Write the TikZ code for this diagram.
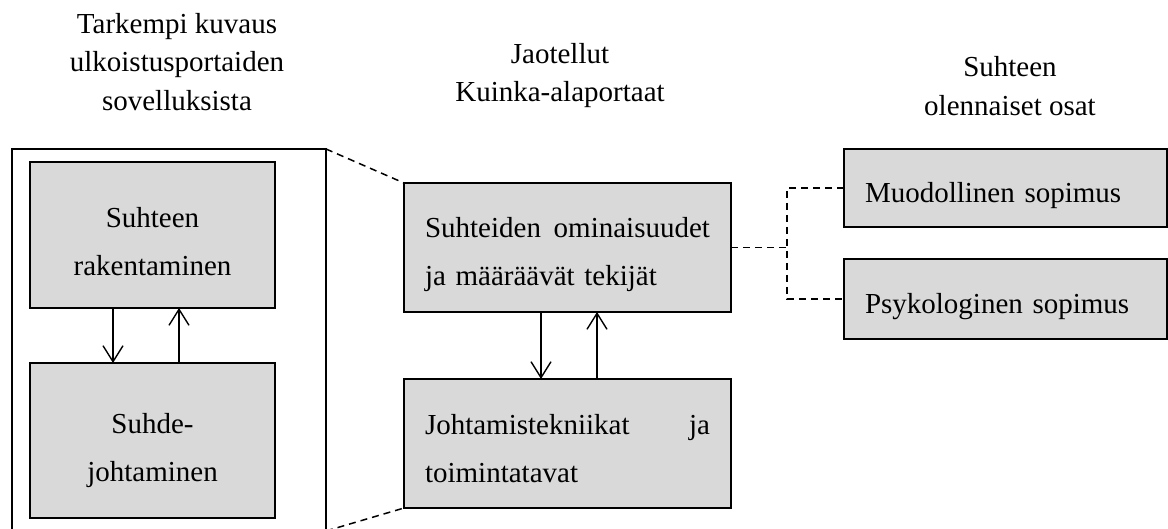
\documentclass[tikz,border=0pt]{standalone}
\usepackage{fontspec}
\setmainfont{Liberation Serif}
\usepackage{tikz}
\usetikzlibrary{arrows.meta,positioning,calc}
\tikzset{
    graybox/.style={
        draw,
        line width=2pt,
        fill=black!15,
        inner sep=0pt,
        outer sep=0pt
    },
    boxtext/.style={
        inner sep=0pt,
        font=\fontsize{29}{48}\selectfont
    },
    headtext/.style={
        align=center,
        inner sep=0pt,
        font=\fontsize{29}{38.5}\selectfont
    },
    linkarrow/.style={
        line width=1.4pt,
        ->,
        >={Straight Barb[length=16pt, width=20pt, line width=1.4pt]}
    },
    dashlink/.style={
        line width=1.5pt,
        dash pattern=on 7pt off 5pt
    }
}

\begin{document}
\begin{tikzpicture}[x=1pt, y=-1pt]
        \clip (0,0) rectangle (1168,529);

        % otsikot
        \node[headtext] (head1) at (177,62) {Tarkempi kuvaus\\ulkoistusportaiden\\sovelluksista};
        \node[headtext] (head2) at (560,75.5) {Jaotellut\\Kuinka-alaportaat};
        \node[headtext] (head3) at (1010,86) {Suhteen\\olennaiset osat};

        % vasen kehys
        \node[draw, line width=2pt, inner sep=0pt, outer sep=0pt,
              minimum width=314pt, minimum height=382pt] (frame) at (169,340) {};

        \node[graybox, minimum width=245pt, minimum height=146pt] (build) at (152.5,235) {};
        \node[graybox, minimum width=245pt, minimum height=155pt] (manage) at (152.5,440.5) {};
        \node[boxtext, align=center] (buildtext) at (152.5,242) {Suhteen\\rakentaminen};
        \node[boxtext, align=center] (managetext) at (152.5,450.5) {Suhde-\\johtaminen};

        % keskimmaiset laatikot
        \node[graybox, minimum width=327pt, minimum height=129pt] (traits) at (567.5,247.5) {};
        \node[graybox, minimum width=327pt, minimum height=129pt] (methods) at (567.5,443.5) {};
        \node[boxtext, text width=285pt, align=left] (traitstext) at (567.5,254.5)
            {Suhteiden\hfill ominaisuudet\\ja määräävät tekijät};
        \node[boxtext, text width=285pt, align=left] (methodstext) at (567.5,448.5)
            {Johtamistekniikat\hfill ja\\toimintatavat};

        % oikeat laatikot
        \node[graybox, minimum width=323pt, minimum height=78pt] (formal) at (1005.5,188) {};
        \node[graybox, minimum width=323pt, minimum height=80pt] (psych) at (1005.5,299) {};
        \node[boxtext, text width=281pt, align=left] (formaltext) at (1005.5,196) {Muodollinen sopimus};
        \node[boxtext, text width=281pt, align=left] (psychtext) at (1005.5,307) {Psykologinen sopimus};

        % nuolet
        \draw[linkarrow] ([xshift=-39.5pt]build.south) -- ([xshift=-39.5pt]manage.north);
        \draw[linkarrow] ([xshift=26.5pt]manage.north) -- ([xshift=26.5pt]build.south);
        \draw[linkarrow] ([xshift=-26.5pt]traits.south) -- ([xshift=-26.5pt]methods.north);
        \draw[linkarrow] ([xshift=29.5pt]methods.north) -- ([xshift=29.5pt]traits.south);

        % katkoviivat
        \draw[dashlink] (frame.north east) -- (traits.north west);
        \draw[dashlink] (frame.south east) -- (methods.south west);
        \draw[dashlink] (traits.east) -- ++(56,0) coordinate (split);
        \draw[dashlink] (formal.west) -| (split) |- (psych.west);
\end{tikzpicture}
\end{document}
